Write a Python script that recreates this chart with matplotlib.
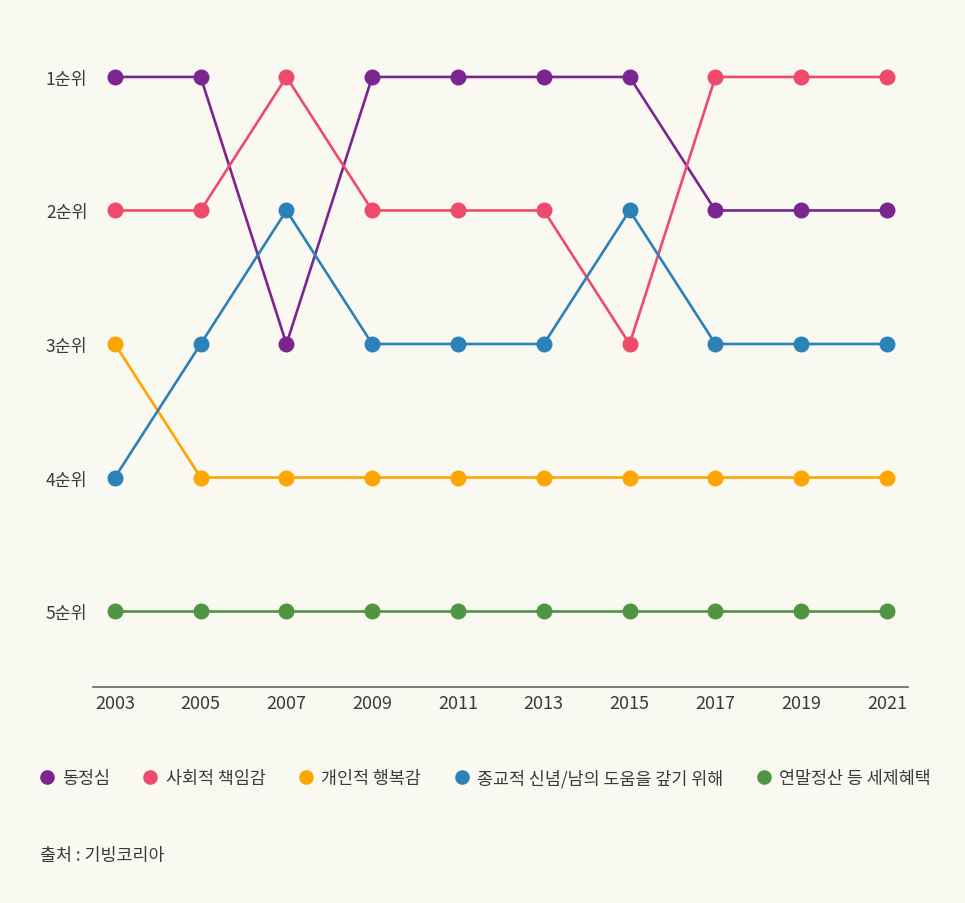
import matplotlib
matplotlib.use("Agg")
import matplotlib.pyplot as plt
from matplotlib.lines import Line2D

plt.rcParams['font.family'] = ['Noto Sans CJK KR', 'DejaVu Sans']

years = [2003, 2005, 2007, 2009, 2011, 2013, 2015, 2017, 2019, 2021]
series_names = ["동정심", "사회적 책임감", "개인적 행복감", "종교적 신념/남의 도움을 갚기 위해", "연말정산 등 세제혜택"]
compassion = [1, 1, 3, 1, 1, 1, 1, 2, 2, 2]
responsibility = [2, 2, 1, 2, 2, 2, 3, 1, 1, 1]
happiness = [3, 4, 4, 4, 4, 4, 4, 4, 4, 4]
religion = [4, 3, 2, 3, 3, 3, 2, 3, 3, 3]
tax = [5, 5, 5, 5, 5, 5, 5, 5, 5, 5]
rank_labels = ["1순위", "2순위", "3순위", "4순위", "5순위"]
colors = ["#7b2590", "#ee4a6c", "#ffa500", "#2a82b9", "#4f9543"]

bg = "#f9f8f1"
txt = "#3a3a3a"
fig = plt.figure(figsize=(9.65, 9.04), dpi=100, facecolor=bg)
ax = fig.add_axes([93/965, 1-688/904, 815/965, 678/904], facecolor=bg)

all_series = [compassion, responsibility, happiness, religion, tax]
for vals, c in zip(all_series, colors):
    ax.plot(years, vals, color=c, lw=1.9, marker='o', markersize=11.5,
            markeredgewidth=0, solid_capstyle='round', zorder=3)

ax.set_xlim(2002.49, 2021.49)
ax.set_ylim(5.569, 0.491)
ax.set_xticks(years)
ax.set_xticklabels([str(y) for y in years])
ax.set_yticks([1, 2, 3, 4, 5])
ax.set_yticklabels(rank_labels)
for lab in ax.get_xticklabels():
    lab.set_fontsize(13)
    lab.set_color(txt)
    lab.set_fontweight('light')
for lab in ax.get_yticklabels():
    lab.set_fontsize(12.5)
    lab.set_color(txt)
    lab.set_fontweight('light')
ax.tick_params(axis='both', length=0)
ax.tick_params(axis='x', pad=5)
ax.tick_params(axis='y', pad=4)
for s in ['top', 'right', 'left']:
    ax.spines[s].set_visible(False)
ax.spines['bottom'].set_color("#666666")
ax.spines['bottom'].set_linewidth(1.2)

handles = [Line2D([], [], linestyle='none', marker='o', markersize=10.5,
                  markeredgewidth=0, color=c) for c in colors]
leg = fig.legend(handles, series_names, loc='center left',
                 bbox_to_anchor=(40/965, 1-779/904), ncol=5, frameon=False,
                 prop={'size': 12.5, 'weight': 'light'},
                 handlelength=0.75, handletextpad=0.5,
                 columnspacing=1.97, borderaxespad=0, borderpad=0)
for t in leg.get_texts():
    t.set_color(txt)

fig.text(40/965, 1-856/904, "출처 : 기빙코리아", fontsize=12.5, fontweight='light',
         color=txt, va='center', ha='left')

fig.savefig("out.png", dpi=100, facecolor=bg)
